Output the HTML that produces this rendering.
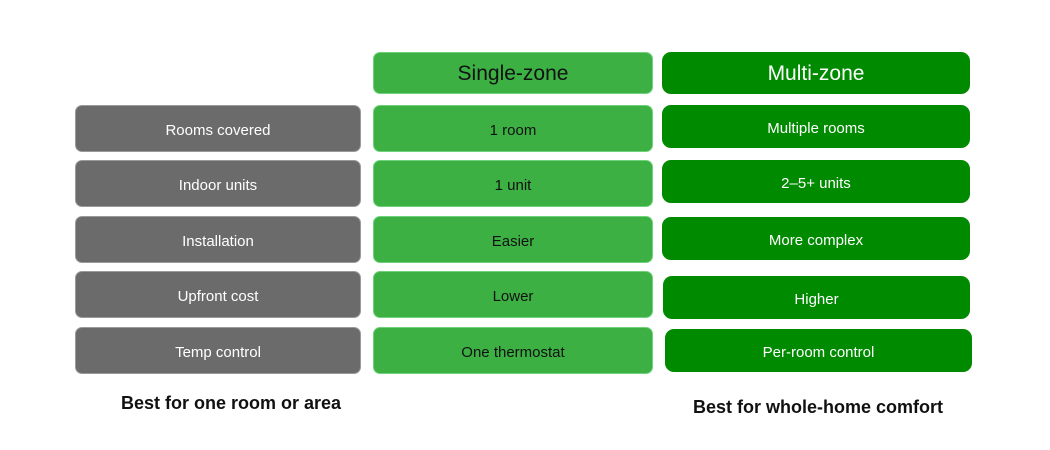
<!DOCTYPE html>
<html><head><style>
body{margin:0;width:1050px;height:450px;background:#fff;position:relative;font-family:"Liberation Sans",sans-serif;overflow:hidden}
.b{position:absolute;display:flex;align-items:center;justify-content:center;border-radius:7px;font-size:15px;padding-top:3px;box-sizing:border-box}
.g{background:#6b6b6b;color:#fff;left:75px;width:286px;height:47px;border:1px solid #9a9a9a}
.s{background:#3db044;color:#111;left:373px;width:280px;height:47px;border:1px solid #6fd27a}
.m{background:#008a00;color:#fff;height:43px;border-radius:9px}
.t{position:absolute;font-weight:bold;font-size:18px;color:#111;text-align:center}
</style></head><body>
<div class="b s" style="top:52px;height:42px;font-size:21px;padding-top:2px">Single-zone</div>
<div class="b m" style="left:662px;width:308px;top:52px;height:42px;font-size:21px;padding-top:2px">Multi-zone</div>

<div class="b g" style="top:105px">Rooms covered</div>
<div class="b g" style="top:160px">Indoor units</div>
<div class="b g" style="top:216px">Installation</div>
<div class="b g" style="top:271px">Upfront cost</div>
<div class="b g" style="top:327px">Temp control</div>

<div class="b s" style="top:105px">1 room</div>
<div class="b s" style="top:160px">1 unit</div>
<div class="b s" style="top:216px">Easier</div>
<div class="b s" style="top:271px">Lower</div>
<div class="b s" style="top:327px">One thermostat</div>

<div class="b m" style="left:662px;width:308px;top:105px">Multiple rooms</div>
<div class="b m" style="left:662px;width:308px;top:160px">2–5+ units</div>
<div class="b m" style="left:662px;width:308px;top:217px">More complex</div>
<div class="b m" style="left:663px;width:307px;top:276px">Higher</div>
<div class="b m" style="left:665px;width:307px;top:329px">Per-room control</div>

<div class="t" style="left:81px;width:300px;top:393px">Best for one room or area</div>
<div class="t" style="left:668px;width:300px;top:397px">Best for whole-home comfort</div>
</body></html>
